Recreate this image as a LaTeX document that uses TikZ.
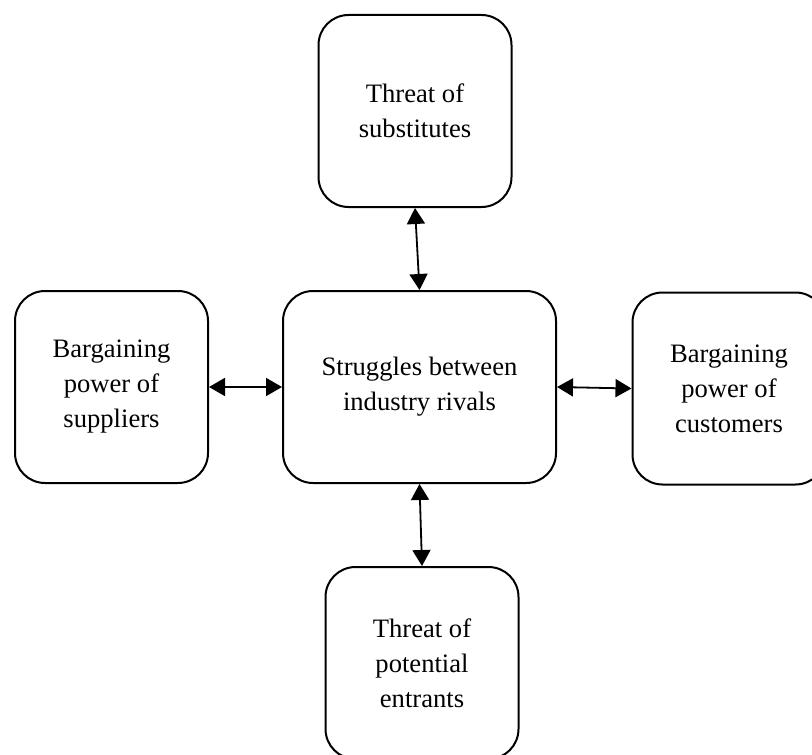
\documentclass[tikz,border=0pt]{standalone}
\usepackage{fontspec}
\setmainfont{Liberation Serif}
\usetikzlibrary{arrows.meta}
\tikzset{
  force/.style={draw=black, line width=1.0pt, rounded corners=15pt, minimum width=96.5pt, minimum height=96pt, align=center, fill=none, font=\fontsize{13.3}{17.5}\selectfont},
  rival/.style={force, minimum width=136.5pt},
  link/.style={line width=0.9pt, {Triangle[length=8pt,width=9pt]}-{Triangle[length=8pt,width=9pt]}}
}

\begin{document}
\begin{tikzpicture}[x=0.5pt, y=-0.5pt]
  \useasboundingbox (0,0) rectangle (812,754);
  \node[rival] (rivals) at (419.5,387) {Struggles between\\industry rivals};
  \node[force] (subst) at (415,111) {Threat of\\substitutes};
  \node[force] (suppl) at (111.5,387) {Bargaining\\power of\\suppliers};
  \node[force] (cust) at (729,388.5) {Bargaining\\power of\\customers};
  \node[force] (entr) at (422,663) {Threat of\\potential\\entrants};
  \draw[link] (subst.south) -- (rivals.north);
  \draw[link] (suppl.east) -- (rivals.west);
  \draw[link] (rivals.east) -- (cust.west);
  \draw[link] (rivals.south) -- (entr.north);
\end{tikzpicture}
\end{document}
